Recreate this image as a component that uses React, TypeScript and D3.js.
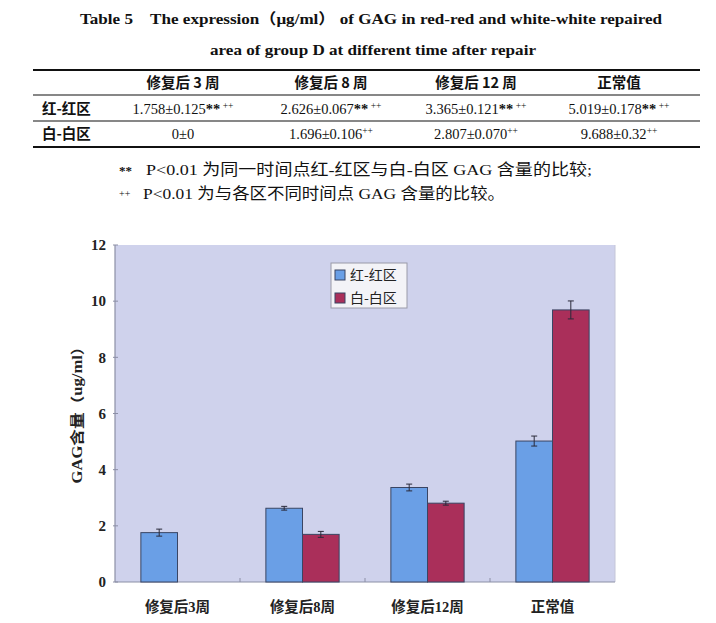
import React from 'react'
import * as d3 from 'd3'

const W = 716
const H = 623

// chart data (μg/ml)
const categories = ['修复后3周', '修复后8周', '修复后12周', '正常值']
const series = ['红-红区', '白-白区']
const redRedMean = [1.758, 2.626, 3.365, 5.019]
const redRedSd = [0.125, 0.067, 0.121, 0.178]
const whiteWhiteMean = [0, 1.696, 2.807, 9.688]
const whiteWhiteSd = [0, 0.106, 0.07, 0.32]
const yTicks = [0, 2, 4, 6, 8, 10, 12]

// table text
const tableHeaders = ['修复后 3 周', '修复后 8 周', '修复后 12 周', '正常值']
const redRedText = ['1.758±0.125', '2.626±0.067', '3.365±0.121', '5.019±0.178']
const whiteWhiteText = ['0±0', '1.696±0.106', '2.807±0.070', '9.688±0.32']
const whiteWhiteSup = [false, true, true, true]

const colors = ['#6a9fe6', '#aa2f5a']
const serif = '"Liberation Serif", "Noto Sans CJK SC", serif'
const cjk = '"Noto Sans CJK SC", "Liberation Serif", sans-serif'

const plot = { left: 115, right: 615, top: 245, bottom: 582 }
const tableCols = [183, 331, 476, 619]

export default function App() {
  const x = d3.scaleBand<string>().domain(categories).range([plot.left, plot.right])
  const bw = x.bandwidth() * 0.293
  const y = d3.scaleLinear().domain([0, 12]).range([plot.bottom, plot.top])

  const groups = [
    { mean: redRedMean, sd: redRedSd },
    { mean: whiteWhiteMean, sd: whiteWhiteSd },
  ]

  return (
    <svg width={W} height={H} style={{ position: 'absolute', left: 0, top: 0, background: '#fff' }}>
      {/* title */}
      <text x={371} y={24} textAnchor="middle" fontFamily={serif} fontWeight="bold" fontSize={15}
        textLength={582} lengthAdjust="spacingAndGlyphs" fill="#111">
        Table 5{'\u2003'}The expression（μg/ml） of GAG in red-red and white-white repaired
      </text>
      <text x={373} y={55} textAnchor="middle" fontFamily={serif} fontWeight="bold" fontSize={15}
        textLength={326} lengthAdjust="spacingAndGlyphs" fill="#111">
        area of group D at different time after repair
      </text>

      {/* table rules */}
      <line x1={33} x2={700} y1={70} y2={70} stroke="#111" strokeWidth={2.2} />
      <line x1={33} x2={700} y1={95} y2={95} stroke="#111" strokeWidth={1.2} />
      <line x1={33} x2={700} y1={121} y2={121} stroke="#111" strokeWidth={1.2} />
      <line x1={33} x2={700} y1={147} y2={147} stroke="#111" strokeWidth={2.2} />

      {tableHeaders.map((h, i) => (
        <text key={h} x={tableCols[i]} y={88} textAnchor="middle" fontFamily={cjk} fontWeight="bold"
          fontSize={14.5} fill="#111">{h}</text>
      ))}
      <text x={42} y={114} fontFamily={cjk} fontWeight="bold" fontSize={14.5} fill="#111">{series[0]}</text>
      <text x={42} y={139} fontFamily={cjk} fontWeight="bold" fontSize={14.5} fill="#111">{series[1]}</text>
      {redRedText.map((t, i) => (
        <text key={t} x={tableCols[i]} y={114} textAnchor="middle" fontFamily={serif} fontSize={14.5} fill="#111">
          {t}<tspan fontWeight="bold">**</tspan><tspan dy={-5} fontSize={9.5}>{' ++'}</tspan>
        </text>
      ))}
      {whiteWhiteText.map((t, i) => (
        <text key={t} x={tableCols[i]} y={139} textAnchor="middle" fontFamily={serif} fontSize={14.5} fill="#111">
          {t}{whiteWhiteSup[i] && <tspan dy={-5} fontSize={9.5}>++</tspan>}
        </text>
      ))}

      {/* footnotes */}
      <text x={119} y={175} fontFamily={serif} fontWeight="bold" fontSize={13} fill="#111">**</text>
      <text x={146} y={175} fontFamily={serif} fontSize={15.5} fill="#111"
        textLength={446} lengthAdjust="spacingAndGlyphs">
        P&lt;0.01  为同一时间点红-红区与白-白区 GAG 含量的比较;
      </text>
      <text x={119} y={197} fontFamily={serif} fontSize={10} fill="#111">++</text>
      <text x={143} y={199} fontFamily={serif} fontSize={15.5} fill="#111"
        textLength={362} lengthAdjust="spacingAndGlyphs">
        P&lt;0.01  为与各区不同时间点 GAG 含量的比较。
      </text>

      {/* plot area */}
      <rect x={plot.left} y={plot.top} width={plot.right - plot.left} height={plot.bottom - plot.top}
        fill="#cfd2ec" />
      <line x1={plot.right} x2={plot.right} y1={plot.top} y2={plot.bottom} stroke="#c4c6d8" />
      <line x1={plot.left} x2={plot.left} y1={plot.top} y2={plot.bottom} stroke="#8c8fa6" strokeWidth={1.2} />
      <line x1={plot.left} x2={plot.right} y1={plot.bottom} y2={plot.bottom} stroke="#8c8fa6" strokeWidth={1.2} />
      {yTicks.map((t) => (
        <g key={t}>
          <line x1={plot.left - 2} x2={plot.left + 3} y1={y(t)} y2={y(t)} stroke="#8c8fa6" />
          <text x={106} y={y(t)} dy="0.35em" textAnchor="end" fontFamily={serif} fontWeight="bold"
            fontSize={15} fill="#222">{t}</text>
        </g>
      ))}
      {categories.slice(1).map((c) => (
        <line key={c} x1={x(c)!} x2={x(c)!} y1={plot.bottom} y2={plot.bottom - 4} stroke="#8c8fa6" />
      ))}

      {/* bars */}
      {groups.map((g, si) =>
        categories.map((c, i) => {
          const v = g.mean[i]
          if (v <= 0) return null
          const cx = x(c)! + x.bandwidth() / 2
          const bx = si === 0 ? cx - bw : cx
          return (
            <g key={`${si}-${c}`}>
              <rect x={bx} y={y(v)} width={bw} height={y(0) - y(v)} fill={colors[si]}
                stroke="#3a4563" strokeWidth={1} />
              <line x1={bx + bw / 2} x2={bx + bw / 2} y1={y(v + g.sd[i])} y2={y(v - g.sd[i])}
                stroke="#2a2a3a" strokeWidth={1} />
              <line x1={bx + bw / 2 - 3} x2={bx + bw / 2 + 3} y1={y(v + g.sd[i])} y2={y(v + g.sd[i])}
                stroke="#2a2a3a" strokeWidth={1} />
              <line x1={bx + bw / 2 - 3} x2={bx + bw / 2 + 3} y1={y(v - g.sd[i])} y2={y(v - g.sd[i])}
                stroke="#2a2a3a" strokeWidth={1} />
            </g>
          )
        }),
      )}

      {/* x labels */}
      {categories.map((c) => (
        <text key={c} x={x(c)! + x.bandwidth() / 2} y={612} textAnchor="middle" fontFamily={serif}
          fontWeight="bold" fontSize={14.5} fill="#222">{c}</text>
      ))}

      {/* y label */}
      <text transform="translate(82,411) rotate(-90)" textAnchor="middle" fontFamily={serif}
        fontWeight="bold" fontSize={14} fill="#222" textLength={145} lengthAdjust="spacingAndGlyphs">
        GAG含量（ug/ml）
      </text>

      {/* legend */}
      <rect x={331} y={263} width={76} height={45} fill="#f3f3f7" stroke="#9a9aa8" />
      {series.map((s, i) => (
        <g key={s}>
          <rect x={335} y={270 + i * 23} width={10} height={10} fill={colors[i]} stroke="#3a4563" />
          <text x={350} y={275 + i * 23} dy="0.36em" fontFamily={cjk} fontSize={14} fill="#222">{s}</text>
        </g>
      ))}
    </svg>
  )
}
